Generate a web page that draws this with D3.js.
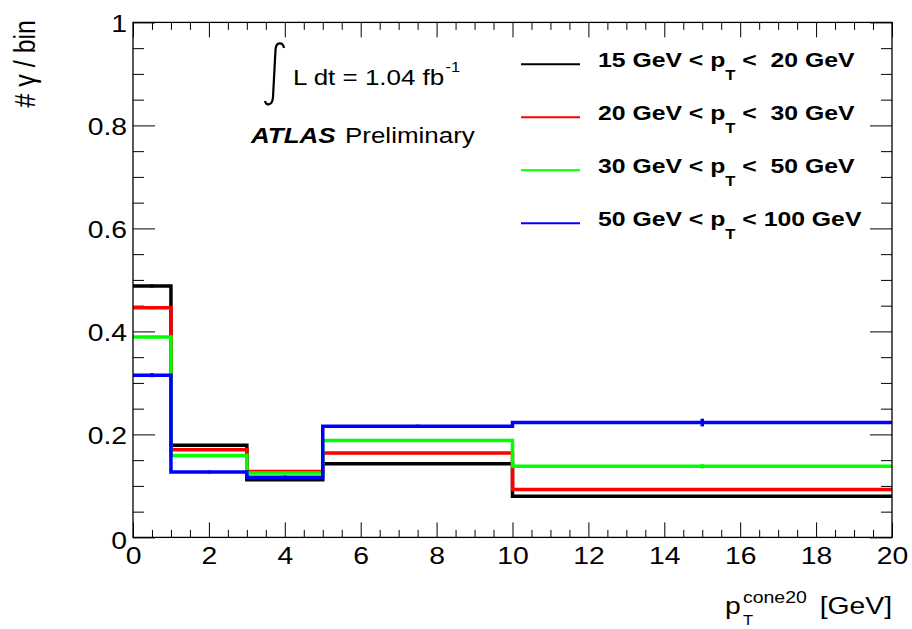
<!DOCTYPE html>
<html>
<head>
<meta charset="utf-8">
<script src="https://cdn.jsdelivr.net/npm/d3@7"></script>
<style>
    body { margin: 0; background: #fff; }
    svg text { font-family: "Liberation Sans", Arial, Helvetica, sans-serif; fill: #000; white-space: pre; }
</style>
</head>
<body>
<svg id="chart" width="912" height="629"></svg>
<script>
/*global d3*/

//bin edges of the isolation histogram (GeV)
var binEdges = [0, 1, 3, 5, 10, 20];
//fraction of photons per bin, one array per pT slice
var black15to20 = [0.488, 0.179, 0.112, 0.143, 0.080],
    red20to30 = [0.446, 0.170, 0.128, 0.164, 0.093],
    green30to50 = [0.389, 0.159, 0.125, 0.188, 0.138],
    blue50to100 = [0.315, 0.127, 0.117, 0.216, 0.223];
//statistical errors (mostly hidden under the line)
var black15to20Err = [0.003, 0.002, 0.002, 0.002, 0.002],
    red20to30Err = [0.003, 0.002, 0.002, 0.002, 0.002],
    green30to50Err = [0.003, 0.002, 0.002, 0.002, 0.004],
    blue50to100Err = [0.004, 0.003, 0.003, 0.003, 0.0075];
var seriesLow = ["15", "20", "30", "50"],
    seriesHigh = [" 20", " 30", " 50", "100"],
    seriesColors = ["#000000", "#ff0000", "#00ff00", "#0000ff"];
var xMajorTicks = [0, 2, 4, 6, 8, 10, 12, 14, 16, 18, 20],
    yMajorTicks = [0, 0.2, 0.4, 0.6, 0.8, 1];

var svg = d3.select("#chart"),
    stretch = 1.18, //text in the reference is a bit wide
    frameLeft = 133,
    frameRight = 892,
    frameTop = 22.4,
    frameBottom = 537.4;

var x = d3.scaleLinear().domain([0, 20]).range([frameLeft, frameRight]),
    y = d3.scaleLinear().domain([0, 1]).range([frameBottom, frameTop]);

var xMinorTicks = d3.range(0, 20.01, 0.5).filter(function (d) { return d % 2 !== 0; }),
    yMinorTicks = d3.range(0, 1.001, 0.05).filter(function (d) { return Math.abs(d * 5 - Math.round(d * 5)) > 1e-6; });

//ticks on all four sides, pointing inward
function drawTicks() {
    "use strict";
    var specs = [
        [d3.axisBottom(x), frameBottom, 0, xMajorTicks, -15],
        [d3.axisBottom(x), frameBottom, 0, xMinorTicks, -7.5],
        [d3.axisTop(x), frameTop, 0, xMajorTicks, -15],
        [d3.axisTop(x), frameTop, 0, xMinorTicks, -7.5],
        [d3.axisLeft(y), 0, frameLeft, yMajorTicks, -22],
        [d3.axisLeft(y), 0, frameLeft, yMinorTicks, -11],
        [d3.axisRight(y), 0, frameRight, yMajorTicks, -22],
        [d3.axisRight(y), 0, frameRight, yMinorTicks, -11]
    ];
    specs.forEach(function (s) {
        var g = svg.append("g")
            .attr("transform", "translate(" + s[2] + "," + s[1] + ")")
            .call(s[0].tickValues(s[3]).tickSize(s[4]).tickFormat(""));
        g.select(".domain").remove();
        g.selectAll(".tick line").attr("stroke", "#000").attr("stroke-width", 1);
    });
}

function drawTickLabels() {
    "use strict";
    var gx = svg.append("g")
        .attr("transform", "translate(0," + frameBottom + ")")
        .call(d3.axisBottom(x).tickValues(xMajorTicks).tickSize(0).tickFormat(d3.format("~g")));
    gx.select(".domain").remove();
    gx.selectAll(".tick text")
        .attr("font-size", 24)
        .attr("fill", "#000")
        .attr("y", 27.1)
        .attr("dy", 0)
        .attr("transform", "scale(" + stretch + ",1)");

    var gy = svg.append("g")
        .attr("transform", "translate(" + frameLeft + ",0)")
        .call(d3.axisLeft(y).tickValues(yMajorTicks).tickSize(0).tickFormat(d3.format("~g")));
    gy.select(".domain").remove();
    gy.selectAll(".tick text")
        .attr("font-size", 24)
        .attr("fill", "#000")
        .attr("x", -6 / stretch)
        .attr("dy", function (d) { return d === 0 ? "0.45em" : "0.36em"; })
        .attr("transform", "scale(" + stretch + ",1)");
}

function drawHistogram(values, errors, color) {
    "use strict";
    var pts = values.map(function (v, i) { return [binEdges[i], v]; });
    pts.push([binEdges[binEdges.length - 1], values[values.length - 1]]);
    var line = d3.line()
        .x(function (d) { return x(d[0]); })
        .y(function (d) { return y(d[1]); })
        .curve(d3.curveStepAfter);
    svg.append("path")
        .attr("d", line(pts))
        .attr("fill", "none")
        .attr("stroke", color)
        .attr("stroke-width", 3.5);
    svg.append("g").selectAll("line")
        .data(values)
        .enter().append("line")
            .attr("x1", function (d, i) { return x((binEdges[i] + binEdges[i + 1]) / 2); })
            .attr("x2", function (d, i) { return x((binEdges[i] + binEdges[i + 1]) / 2); })
            .attr("y1", function (d, i) { return y(d - errors[i]); })
            .attr("y2", function (d, i) { return y(d + errors[i]); })
            .attr("stroke", color)
            .attr("stroke-width", 3.5);
}

function stretchedText(px, py, size) {
    "use strict";
    return svg.append("text")
        .attr("transform", "translate(" + px + "," + py + ") scale(" + stretch + ",1)")
        .attr("font-size", size);
}

function drawLegend() {
    "use strict";
    seriesLow.forEach(function (lo, i) {
        var ly = 64.3 + i * 53;
        svg.append("line")
            .attr("x1", 521).attr("x2", 580)
            .attr("y1", ly).attr("y2", ly)
            .attr("stroke", seriesColors[i])
            .attr("stroke-width", 2);
        var t = stretchedText(598, ly + 2.5, 21).attr("font-weight", "bold");
        t.append("tspan").text(lo + " GeV < p");
        t.append("tspan").attr("font-size", 14).attr("dy", 13.3).text("T");
        t.append("tspan").attr("dy", -13.3).text(" < " + seriesHigh[i] + " GeV");
    });
}

function drawLabels() {
    "use strict";
    //integral sign
    svg.append("path")
        .attr("d", "M284,48 C283,42 276,41 275.5,50 L273,97 C272.5,106 266,106 265,101")
        .attr("fill", "none")
        .attr("stroke", "#000")
        .attr("stroke-width", 2.2);
    var lumi = stretchedText(293, 85, 22);
    lumi.append("tspan").text("L dt = 1.04 fb");
    lumi.append("tspan").attr("font-size", 14).attr("dy", -13).attr("dx", 1).text("-1");

    stretchedText(251, 143, 22).attr("font-weight", "bold").attr("font-style", "italic").text("ATLAS");
    stretchedText(345, 143, 22).text("Preliminary");

    //x axis title
    stretchedText(725, 614, 24).text("p");
    stretchedText(743, 603.3, 16.5).text("cone20");
    stretchedText(743, 625, 14).text("T");
    stretchedText(892, 614, 24).attr("text-anchor", "end").text("[GeV]");

    //y axis title
    svg.append("text")
        .attr("transform", "translate(35,20) rotate(-90) scale(1," + stretch + ")")
        .attr("font-size", 25)
        .attr("text-anchor", "end")
        .text("# \u03b3 / bin");
}

drawTicks();
drawHistogram(black15to20, black15to20Err, seriesColors[0]);
drawHistogram(red20to30, red20to30Err, seriesColors[1]);
drawHistogram(green30to50, green30to50Err, seriesColors[2]);
drawHistogram(blue50to100, blue50to100Err, seriesColors[3]);
//frame on top, like a redrawn axis
svg.append("rect")
    .attr("x", frameLeft).attr("y", frameTop)
    .attr("width", frameRight - frameLeft).attr("height", frameBottom - frameTop)
    .attr("fill", "none")
    .attr("stroke", "#000")
    .attr("stroke-width", 1.3);
drawTickLabels();
drawLegend();
drawLabels();
</script>
</body>
</html>
